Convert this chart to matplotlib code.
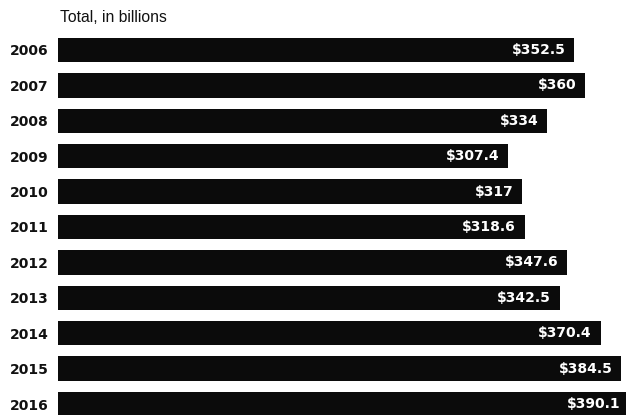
import matplotlib
matplotlib.use("Agg")
import matplotlib.pyplot as plt

years = ["2006", "2007", "2008", "2009", "2010", "2011", "2012", "2013", "2014", "2015", "2016"]
values = [352.5, 360, 334, 307.4, 317, 318.6, 347.6, 342.5, 370.4, 384.5, 390.1]
labels = ["$352.5", "$360", "$334", "$307.4", "$317", "$318.6", "$347.6", "$342.5", "$370.4", "$384.5", "$390.1"]
title = "Total, in billions"

W, H = 626, 415
fig = plt.figure(figsize=(W / 100, H / 100), dpi=100)
fig.patch.set_facecolor("white")

left_px = 58
ax = fig.add_axes([left_px / W, 0, 1 - left_px / W, 1])
ax.set_facecolor("white")

pitch = 35.4
first_center = 50
pos = list(range(len(years)))
ax.barh(pos, values, height=0.69, color="#0b0b0b", edgecolor="none")

ax.set_xlim(0, (W - left_px) / 1.465)
ax.set_ylim((H - first_center) / pitch, -first_center / pitch)

for i, (v, lab) in enumerate(zip(values, labels)):
    ax.annotate(lab.replace("$", r"\$"), xy=(v, i), xytext=(-9, 0), textcoords="offset pixels",
                ha="right", va="center", color="white", fontsize=10, fontweight="bold",
                family="DejaVu Sans", annotation_clip=False)

ax.set_yticks(pos)
ax.set_yticklabels(years, fontsize=10, fontweight="bold", family="DejaVu Sans", color="#111111")
ax.tick_params(axis="y", length=0, pad=7)
ax.set_xticks([])
for s in ax.spines.values():
    s.set_visible(False)

fig.text(60 / W, 1 - 18 / H, title, ha="left", va="center", fontsize=11.3,
         family="Liberation Sans", color="#111111")

fig.savefig("out.png", dpi=100, facecolor="white")
